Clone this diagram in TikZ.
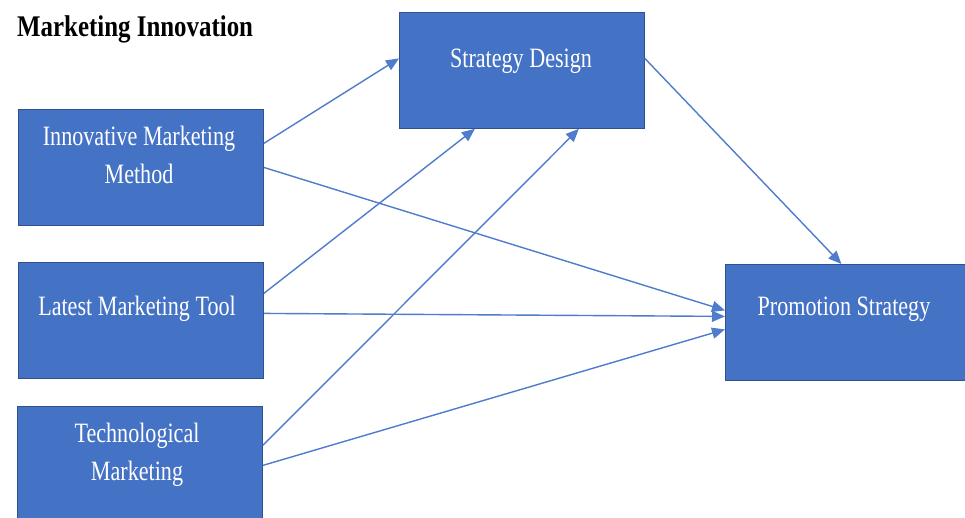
\documentclass[tikz,border=0pt]{standalone}
\usepackage{fontspec}
\setmainfont{Liberation Serif}
\newfontfamily\boxfont[FakeStretch=0.79]{Liberation Serif}
\newfontfamily\titlefont[FakeStretch=0.83]{Liberation Serif}
\usetikzlibrary{arrows.meta}
\definecolor{boxblue}{RGB}{68,114,196}
\definecolor{boxedge}{RGB}{47,82,143}
\definecolor{linkblue}{RGB}{79,124,204}
\tikzset{
  box/.style={draw=boxedge, fill=boxblue, line width=0.8pt, minimum width=245pt, minimum height=116pt, inner sep=0pt, anchor=north west},
  boxlabel/.style={text=white, font=\boxfont\fontsize{28}{38}\selectfont, anchor=base, inner sep=0pt},
  link/.style={draw=linkblue, line width=1.4pt, -{Triangle[length=13pt,width=11pt]}}
}
\begin{document}
\begin{tikzpicture}[x=1pt,y=-1pt]
\useasboundingbox (0,0) rectangle (965,517);
\clip (0,0) rectangle (965,517);
\fill[white] (0,0) rectangle (965,517);
\node[anchor=base west, inner sep=0pt, font=\titlefont\bfseries\fontsize{30}{36}\selectfont] (title) at (17,36) {Marketing Innovation};

\node[box] (imm) at (18,109) {};
\node[box] (lmt) at (18,262) {};
\node[box] (tm) at (17,406) {};
\node[box] (sd) at (399,12) {};
\node[box, minimum width=250pt] (ps) at (725,264) {};

\node[boxlabel] (imm1) at (139,145) {Innovative Marketing};
\node[boxlabel] (imm2) at (139,183) {Method};
\node[boxlabel] (lmt1) at (137,315) {Latest Marketing Tool};
\node[boxlabel] (tm1) at (137,442) {Technological};
\node[boxlabel] (tm2) at (137,480) {Marketing};
\node[boxlabel] (sd1) at (521,67) {Strategy Design};
\node[boxlabel] (ps1) at (844,315) {Promotion Strategy};

\draw[link] ([yshift=24pt]imm.east) -- ([yshift=12pt]sd.west);
\draw[link] (imm.east) -- ([yshift=12pt]ps.west);
\draw[link] ([yshift=27pt]lmt.east) -- ([xshift=-47pt]sd.south);
\draw[link] ([yshift=7pt]lmt.east) -- ([yshift=6pt]ps.west);
\draw[link] ([yshift=19pt]tm.east) -- ([xshift=57pt]sd.south);
\draw[link] ([yshift=-1pt]tm.east) -- ([yshift=-7pt]ps.west);
\draw[link] ([yshift=12pt]sd.east) -- ([xshift=-9pt]ps.north);
\end{tikzpicture}
\end{document}
